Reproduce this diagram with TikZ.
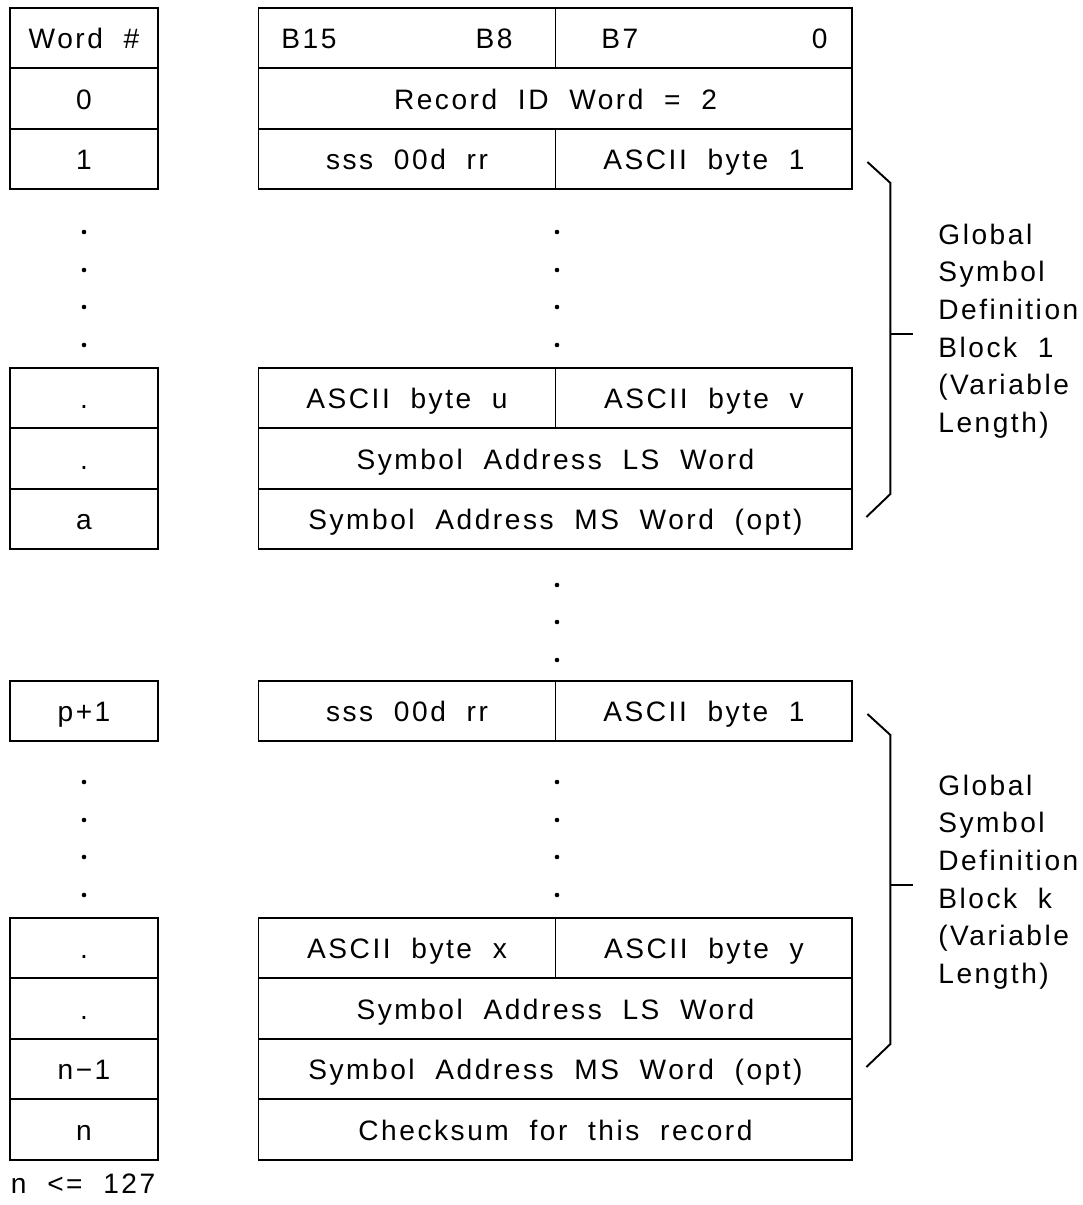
\documentclass[tikz,border=0pt]{standalone}
\usepackage{fontspec}
\setmainfont{Liberation Sans}[LetterSpace=9, WordSpace=2]
\usetikzlibrary{positioning, calc}

\begin{document}
\begin{tikzpicture}[
    x=0.02cm, y=-0.02cm,
    line width=1.1pt,
    every node/.style={font=\fontsize{16}{21.4}\selectfont},
    cell/.style={
        draw, minimum height=1.21cm, minimum width=#1,
        inner sep=0pt, outer sep=0pt, text height=12.5pt, text depth=0pt
    },
    cell/.default=5.94cm,
    wcell/.style={cell=2.96cm},
    note/.style={align=left, anchor=west, inner sep=0pt},
    bit/.style={inner sep=0pt, text height=12.5pt, text depth=0pt},
]
\useasboundingbox (0,0) rectangle (1083,1205);

% === Word number column, top ===
\node[wcell] (word) at (84,38) {Word \#};
\node[wcell, below=0pt of word] (w0) {0};
\node[wcell, below=0pt of w0] (w1) {1};

% === Bit header ===
\node[cell] (hdrL) at (407,38) {};
\node[cell, right=0pt of hdrL] (hdrR) {};
\node[bit, right=0.44cm of hdrL.west] (b15) {B15};
\node[bit, left=0.84cm of hdrL.east] (b8) {B8};
\node[bit, right=0.9cm of hdrR.west] (b7) {B7};
\node[bit, left=0.48cm of hdrR.east] (b0) {0};

% === Record ID + first symbol ===
\node[cell=11.88cm, below=0pt of hdrL.south east] (recid) {Record ID Word = 2};
\node[cell, below right=0pt and 0pt of recid.south west] (s1L) {sss 00d rr};
\node[cell, right=0pt of s1L] (s1R) {ASCII byte 1};

% dots
\foreach \y in {232,270,307,345} {
    \fill (84,\y) circle (1.3pt);
    \fill (557,\y) circle (1.3pt);
}

% === Block 1 tail ===
\node[wcell] (wu) at (84,398) {.};
\node[wcell, below=0pt of wu] (wv) {.};
\node[wcell, below=0pt of wv] (wa) {a};
\node[cell] (uL) at (407,398) {ASCII byte u};
\node[cell, right=0pt of uL] (vR) {ASCII byte v};
\node[cell=11.88cm, below=0pt of uL.south east] (ls1) {Symbol Address LS Word};
\node[cell=11.88cm, below=0pt of ls1] (ms1) {Symbol Address MS Word (opt)};

\foreach \y in {585,622,660}
    \fill (557,\y) circle (1.3pt);

% === Block k ===
\node[wcell] (wp) at (84,711) {p+1};
\node[cell] (skL) at (407,711) {sss 00d rr};
\node[cell, right=0pt of skL] (skR) {ASCII byte 1};

\foreach \y in {782,820,857,895} {
    \fill (84,\y) circle (1.3pt);
    \fill (557,\y) circle (1.3pt);
}

\node[wcell] (wx) at (84,948) {.};
\node[wcell, below=0pt of wx] (wy) {.};
\node[wcell, below=0pt of wy] (wn1) {n−1};
\node[wcell, below=0pt of wn1] (wn) {n};
\node[cell] (xL) at (407,948) {ASCII byte x};
\node[cell, right=0pt of xL] (yR) {ASCII byte y};
\node[cell=11.88cm, below=0pt of xL.south east] (lsk) {Symbol Address LS Word};
\node[cell=11.88cm, below=0pt of lsk] (msk) {Symbol Address MS Word (opt)};
\node[cell=11.88cm, below=0pt of msk] (chk) {Checksum for this record};

\node[note] (nmax) at ($(wn.south west)+(0,24)$) {n <= 127};

% === Braces ===
\draw ($(s1R.east)+(15,3)$) -- ++(23,21) -- ($(ms1.east)+(38,-25)$) -- ++(-24,23);
\draw ($(s1R.east)!0.5!(ms1.east)+(38,-5)$) -- ++(23,0);
\node[note] (gsd1) at ($(s1R.east)!0.5!(ms1.east)+(85,-8)$)
    {Global\\Symbol\\Definition\\Block 1\\(Variable\\Length)};

\draw ($(skR.east)+(15,3)$) -- ++(23,21) -- ($(msk.east)+(38,-25)$) -- ++(-24,23);
\draw ($(skR.east)!0.5!(msk.east)+(38,-5)$) -- ++(23,0);
\node[note] (gsdk) at ($(skR.east)!0.5!(msk.east)+(85,-8)$)
    {Global\\Symbol\\Definition\\Block k\\(Variable\\Length)};

\end{tikzpicture}
\end{document}
